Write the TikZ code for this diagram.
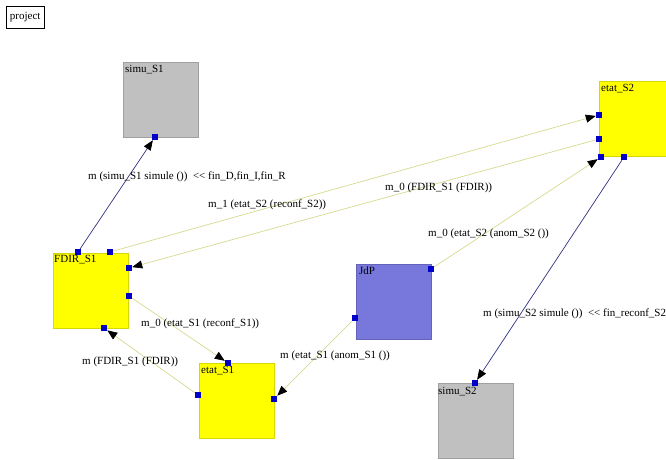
\documentclass[tikz,border=0pt]{standalone}
\usepackage{fontspec}
\setmainfont{Liberation Serif}
\usetikzlibrary{arrows.meta}
\definecolor{boxyellow}{HTML}{FFFF00}
\definecolor{yedge}{HTML}{D8D800}
\definecolor{boxgray}{HTML}{C0C0C0}
\definecolor{gedge}{HTML}{A0A0A0}
\definecolor{boxblue}{HTML}{7878DC}
\definecolor{bedge}{HTML}{6464B8}
\definecolor{portblue}{HTML}{0000C8}
\definecolor{msgline}{HTML}{D8D890}
\definecolor{simline}{HTML}{303080}
\tikzset{
  x=1pt, y=-1pt,
  txt/.style={font=\fontsize{11}{12}\selectfont, inner sep=0pt},
  comp/.style={minimum width=75pt, minimum height=75pt, inner sep=0pt, anchor=north west, line width=0.8pt},
  ycomp/.style={comp, fill=boxyellow, draw=yedge},
  gcomp/.style={comp, fill=boxgray, draw=gedge},
  bcomp/.style={comp, fill=boxblue, draw=bedge},
  title/.style={txt, anchor=north west},
  port/.style={fill=portblue, minimum size=6.5pt, inner sep=0pt, outer sep=0pt},
  msg/.style={draw=msgline, line width=0.7pt, -{Triangle[length=10pt,width=8pt]}, arrows={[color=black]}},
  sim/.style={draw=simline, line width=0.7pt, -{Triangle[length=10pt,width=8pt]}, arrows={[color=black]}},
  lbl/.style={txt, anchor=west}
}
\begin{document}
\begin{tikzpicture}
\useasboundingbox (0,0) rectangle (666,459);

% project tag
\node[draw, line width=0.5pt, anchor=north west, minimum width=38pt, minimum height=22pt, inner sep=0pt] (proj) at (6,6) {};
\node[txt] at (proj.center) {project};

% components
\node[gcomp] (simuS1) at (123,62) {};
\node[title] at ([shift={(2,3)}]simuS1.north west) {simu\_S1};
\node[ycomp] (fdirS1) at (53,253) {};
\node[title] at ([shift={(1,2)}]fdirS1.north west) {FDIR\_S1};
\node[ycomp] (etatS1) at (199,363) {};
\node[title] at ([shift={(2,3)}]etatS1.north west) {etat\_S1};
\node[bcomp] (jdp) at (356,264) {};
\node[title] at ([shift={(3,3)}]jdp.north west) {JdP};
\node[ycomp] (etatS2) at (599,81) {};
\node[title] at ([shift={(2,3)}]etatS2.north west) {etat\_S2};
\node[gcomp] (simuS2) at (438,383) {};
\node[title] at ([shift={(0,4)}]simuS2.north west) {simu\_S2};

% ports
\node[port] (pS1in) at (155,137) {};
\node[port] (pFsim) at (78,252) {};
\node[port] (pFout2) at (110,252) {};
\node[port] (pFin2) at (129,268) {};
\node[port] (pFout1) at (129,296) {};
\node[port] (pFin1) at (104,328) {};
\node[port] (pE1in) at (228,363) {};
\node[port] (pE1out) at (198,395) {};
\node[port] (pE1anom) at (274,399) {};
\node[port] (pJout2) at (431,269) {};
\node[port] (pJout1) at (355,318) {};
\node[port] (pE2in) at (599,115) {};
\node[port] (pE2out) at (599,139) {};
\node[port] (pE2anom) at (601,157) {};
\node[port] (pE2sim) at (624,157) {};
\node[port] (pS2in) at (475,383) {};

% connectors
\draw[sim] (pFsim) -- (pS1in);
\draw[msg] (pFout2) -- (pE2in);
\draw[msg] (pE2out) -- (pFin2);
\draw[msg] (pFout1) -- (pE1in);
\draw[msg] (pE1out) -- (pFin1);
\draw[msg] (pJout1) -- (pE1anom);
\draw[msg] (pJout2) -- (pE2anom);
\draw[sim] (pE2sim) -- (pS2in);

% message labels
\node[lbl] at (88,177) {m (simu\_S1 simule ())\ \ {<}{<} fin\_D,fin\_I,fin\_R};
\node[lbl] at (385,188) {m\_0 (FDIR\_S1 (FDIR))};
\node[lbl] at (208,205) {m\_1 (etat\_S2 (reconf\_S2))};
\node[lbl] at (141,324) {m\_0 (etat\_S1 (reconf\_S1))};
\node[lbl] at (82,362) {m (FDIR\_S1 (FDIR))};
\node[lbl] at (280,356) {m (etat\_S1 (anom\_S1 ())};
\node[lbl] at (428,234) {m\_0 (etat\_S2 (anom\_S2 ())};
\node[lbl] at (483,314) {m (simu\_S2 simule ())\ \ {<}{<} fin\_reconf\_S2};
\end{tikzpicture}
\end{document}
